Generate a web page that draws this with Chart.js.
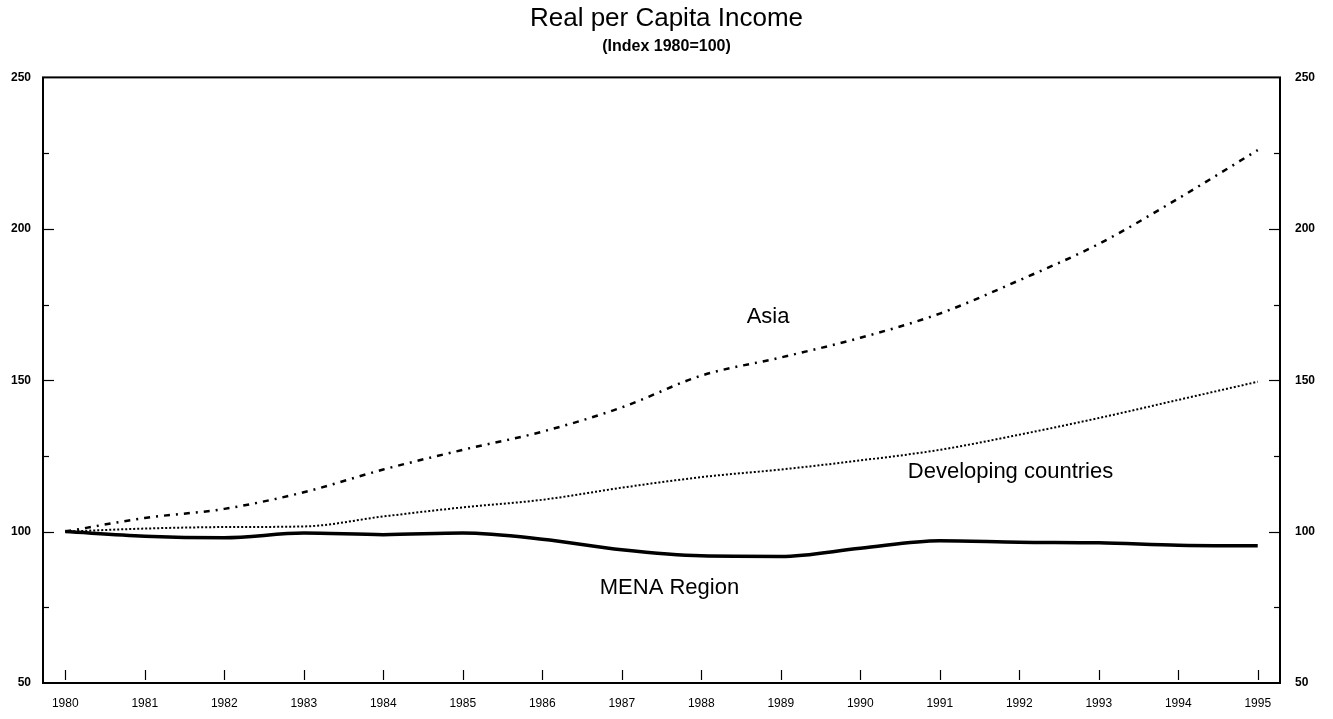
<!DOCTYPE html>
<html>
<head>
<meta charset="utf-8">
<script src="https://cdn.jsdelivr.net/npm/chart.js@4/dist/chart.umd.min.js"></script>
<style>
html,body{margin:0;padding:0;background:#fff;}
#wrap{width:1333px;height:719px;position:relative;}
</style>
</head>
<body>
<div id="wrap"><canvas id="c"></canvas></div>
<script>
const years = [1980,1981,1982,1983,1984,1985,1986,1987,1988,1989,1990,1991,1992,1993,1994,1995];
const asia = [100,104.5,107.5,113,120.5,127,133,141,151.5,157.5,164,172,183,195,210,226];
const developing = [100,101,101.5,101.7,105,108,110.5,114.5,118,120.5,123.5,127,132,137.5,143.5,149.5];
const mena = [100,98.5,98,99.5,99,99.5,97.5,94,92,91.8,94.5,97,96.5,96.3,95.5,95.3];
const yTickValues = [50,100,150,200,250];
const titleText = "Real per Capita Income";
const subtitleText = "(Index 1980=100)";
const labels = [
  {text:"Asia", x:1988.84, y:170.8},
  {text:"Developing countries", x:1991.89, y:119.6},
  {text:"MENA Region", x:1987.6, y:81.4}
];

const FONT = "'Liberation Sans', Arial, sans-serif";
const toPts = arr => years.map((yr,i)=>({x:yr,y:arr[i]}));

const framePlugin = {
  id:'frame',
  afterDatasetsDraw(chart){
    const ctx = chart.ctx, a = chart.chartArea;
    const xs = chart.scales.x, ys = chart.scales.y;
    ctx.save();
    ctx.strokeStyle = '#000';
    ctx.lineWidth = 2;
    ctx.strokeRect(a.left, a.top, a.right-a.left, a.bottom-a.top);
    ctx.lineWidth = 1.2;
    years.forEach(v=>{
      const px = Math.round(xs.getPixelForValue(v))+0.5;
      ctx.beginPath(); ctx.moveTo(px, a.bottom-3); ctx.lineTo(px, a.bottom-13); ctx.stroke();
    });
    ys.ticks.forEach(t=>{
      const py = Math.round(ys.getPixelForValue(t.value))+0.5;
      const len = (t.value%50===0)?11:6;
      if (t.value===50 || t.value===250) return;
      ctx.beginPath(); ctx.moveTo(a.left, py); ctx.lineTo(a.left+len, py); ctx.stroke();
      ctx.beginPath(); ctx.moveTo(a.right, py); ctx.lineTo(a.right-len, py); ctx.stroke();
    });
    ctx.fillStyle = '#000';
    ctx.font = "22px " + FONT;
    ctx.textAlign = 'center';
    ctx.textBaseline = 'middle';
    labels.forEach(l=>{
      ctx.fillText(l.text, xs.getPixelForValue(l.x), ys.getPixelForValue(l.y));
    });
    ctx.restore();
  }
};

const yCommon = {
  type:'linear', min:50, max:250,
  grid:{display:false, drawTicks:false},
  border:{display:false},
  afterBuildTicks(scale){ scale.ticks = [50,75,100,125,150,175,200,225,250].map(v=>({value:v})); },
  ticks:{
    color:'#000',
    font:{family:FONT, size:12, weight:'bold'},
    callback:(v)=> yTickValues.includes(v) ? String(v) : ''
  }
};

new Chart(document.getElementById('c'), {
  type:'line',
  data:{
    datasets:[
      {label:'Asia', data:toPts(asia), borderColor:'#000', borderWidth:2.5, borderDash:[6,6,2,6], pointRadius:0, cubicInterpolationMode:'monotone', fill:false},
      {label:'Developing countries', data:toPts(developing), borderColor:'#000', borderWidth:2, borderDash:[2,2], pointRadius:0, cubicInterpolationMode:'monotone', fill:false},
      {label:'MENA Region', data:toPts(mena), borderColor:'#000', borderWidth:3.5, pointRadius:0, cubicInterpolationMode:'monotone', fill:false}
    ]
  },
  options:{
    responsive:true, maintainAspectRatio:false, animation:false,
    devicePixelRatio:1,
    layout:{padding:{left:0,right:0,top:0,bottom:0}},
    plugins:{
      legend:{display:false},
      tooltip:{enabled:false},
      title:{display:true, text:titleText, color:'#000', font:{family:FONT, size:26, weight:'normal'}, padding:{top:3,bottom:3}},
      subtitle:{display:true, text:subtitleText, color:'#000', font:{family:FONT, size:16, weight:'bold'}, padding:{top:0,bottom:21}}
    },
    scales:{
      x:{
        type:'linear', min:1979.72, max:1995.28,
        grid:{display:false, drawTicks:false},
        border:{display:false},
        afterBuildTicks(scale){ scale.ticks = years.map(v=>({value:v})); },
        afterFit(scale){ scale.height = 36; },
        ticks:{color:'#000', autoSkip:false, maxRotation:0, padding:13,
          font:{family:FONT, size:12}, callback:(v)=>String(v)}
      },
      y:Object.assign({}, yCommon, {position:'left', afterFit(scale){ scale.width = 43; }, ticks:Object.assign({}, yCommon.ticks, {padding:12})}),
      y2:Object.assign({}, yCommon, {position:'right', afterFit(scale){ scale.width = 53; }, ticks:Object.assign({}, yCommon.ticks, {padding:15})})
    }
  },
  plugins:[framePlugin]
});
</script>
</body>
</html>
